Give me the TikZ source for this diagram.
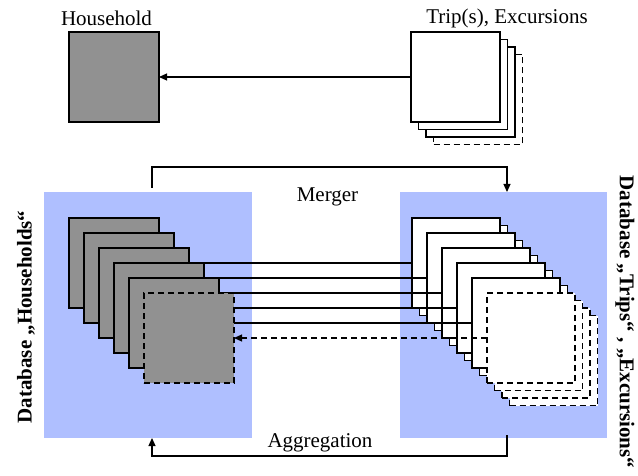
\documentclass[tikz,border=0pt]{standalone}
\usepackage{fontspec}
\setmainfont{Liberation Serif}
\usetikzlibrary{arrows.meta}
\definecolor{dbblue}{RGB}{175,191,255}
\definecolor{hgray}{RGB}{145,145,145}
\pgfdeclarelayer{front}
\pgfsetlayers{main,front}
\begin{document}
\begin{tikzpicture}[x=1pt,y=-1pt,
  sq/.style={draw, line width=1.5pt, inner sep=0pt, outer sep=0pt, anchor=north west, minimum height=90pt},
  hsq/.style={sq, fill=hgray, minimum width=90pt},
  tsq/.style={sq, fill=white, minimum width=88pt},
  dsh/.style={dash pattern=on 6pt off 4pt},
  conn/.style={line width=1.2pt},
  arr/.style={conn, -{Triangle[length=8pt,width=7pt]}},
  lbl/.style={font=\fontsize{21}{24}\selectfont, inner sep=0pt, anchor=base},
  vlbl/.style={font=\fontsize{21}{24}\selectfont\bfseries, inner sep=0pt},
  dbbox/.style={fill=dbblue, draw=none, inner sep=0pt, outer sep=0pt, anchor=north west, minimum height=246pt}]
\useasboundingbox (0,0) rectangle (638,476);

% top row
\node[hsq] (hh) at (69,32) {};
\node[tsq, dsh, minimum width=89pt] (t3) at (433.5,54.5) {};
\node[tsq, minimum width=89pt] (t2) at (426,47) {};
\node[tsq, minimum width=89pt] (t1) at (418.5,39.5) {};
\node[tsq, minimum width=89pt] (t0) at (411,32) {};
\draw[arr] (t0.west) -- (hh.east);
\node[lbl] (hhl) at (106.5,26) {Household};
\node[lbl] (tl) at (507,24) {Trip(s), Excursions};

% databases
\node[dbbox, minimum width=208pt] (dbL) at (44,192) {};
\node[dbbox, minimum width=207pt] (dbR) at (400,192) {};

% right items
\foreach \k in {0,...,4} {
  \node[tsq] (Rb\k) at ({412+15*\k+7.5},{218+15*\k+7.5}) {};
  \node[tsq] (R\k) at ({412+15*\k},{218+15*\k}) {};
}
\node[tsq,dsh] (R5c) at (509.5,315.5) {};
\node[tsq,dsh] (R5b) at (502,308) {};
\node[tsq,dsh] (R5a) at (494.5,300.5) {};
\node[tsq,dsh] (R5) at (487,293) {};

% left items
\begin{pgfonlayer}{front}
\foreach \k in {1,...,5} {
  \node[hsq] (L\k) at ({69+15*(\k-1)},{218+15*(\k-1)}) {};
}
\node[hsq,dsh] (L6) at (144,293) {};
\end{pgfonlayer}

% connectors
\draw[conn] (L1.east) -- (R0.west);
\draw[conn] (L2.east) -- (R1.west);
\draw[conn] (L3.east) -- (R2.west);
\draw[conn] (L4.east) -- (R3.west);
\draw[conn] (L5.east) -- (R4.west);
\begin{pgfonlayer}{front}
\draw[arr,dsh] (R5.west) -- (L6.east);
\end{pgfonlayer}

% merger / aggregation
\draw[arr] ([xshift=4pt,yshift=4pt]dbL.north) -- ++(0pt,21pt) -| ([xshift=3.5pt]dbR.north);
\draw[arr] ([xshift=3.5pt,yshift=3pt]dbR.south) -- ++(0pt,-21pt) -| ([xshift=4pt]dbL.south);
\node[lbl] (merg) at (327.5,202) {Merger};
\node[lbl] (aggr) at (320,447) {Aggregation};

% vertical labels
\node[vlbl, rotate=90] (dbLl) at (26,317) {Database „Households“};
\node[vlbl, rotate=-90] (dbRl) at (625,322) {Database „Trips“ , „Excursions“};
\end{tikzpicture}
\end{document}
